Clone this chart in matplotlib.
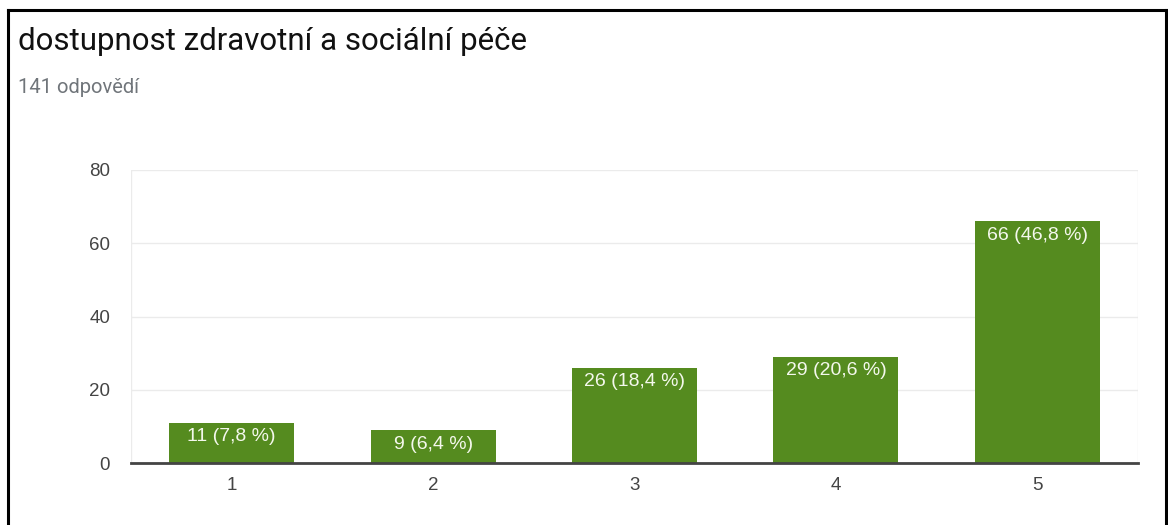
import matplotlib
matplotlib.use("Agg")
import matplotlib.pyplot as plt

categories = ["1", "2", "3", "4", "5"]
counts = [11, 9, 26, 29, 66]
percents = ["7,8", "6,4", "18,4", "20,6", "46,8"]
yticks = [0, 20, 40, 60, 80]
title = "dostupnost zdravotní a sociální péče"
subtitle = "141 odpovědí"

W, H = 1168, 525
fig = plt.figure(figsize=(W / 100, H / 100), dpi=100)
fig.patch.set_facecolor("white")

# outer black border (open at bottom)
fig.add_artist(plt.Line2D([8 / W, 8 / W], [0, 1 - 10 / H], transform=fig.transFigure, color="black", lw=2.2))
fig.add_artist(plt.Line2D([8 / W, 1166 / W], [1 - 10 / H, 1 - 10 / H], transform=fig.transFigure, color="black", lw=2.2))
fig.add_artist(plt.Line2D([1166 / W, 1166 / W], [0, 1 - 10 / H], transform=fig.transFigure, color="black", lw=2.2))

fig.text(18 / W, 1 - 42 / H, title, fontsize=22.5, family="Roboto", color="#111111", va="center", ha="left")
fig.text(18 / W, 1 - 88 / H, subtitle, fontsize=14.5, family="Roboto", color="#70757a", va="center", ha="left")

left, right, top, bottom = 131, 1138, 170, 463
ax = fig.add_axes([left / W, 1 - bottom / H, (right - left) / W, (bottom - top) / H])
x = list(range(len(categories)))
ax.bar(x, counts, width=0.62, color="#558b1f", zorder=3)
ax.set_xlim(-0.5, len(categories) - 0.5)
ax.set_ylim(0, 80)
ax.set_yticks(yticks)
ax.set_xticks(x)
ax.set_xticklabels(categories)
for s in ["top", "right", "left"]:
    ax.spines[s].set_visible(False)
ax.spines["bottom"].set_color("#444444")
ax.spines["bottom"].set_linewidth(2)
ax.spines["bottom"].set_zorder(4)
ax.tick_params(length=0, labelsize=13.5, labelcolor="#444444", pad=10)
ax.tick_params(axis="y", pad=15)
for lab in ax.get_xticklabels() + ax.get_yticklabels():
    lab.set_family("Liberation Sans")
ax.grid(axis="y", color="#ebebeb", lw=1, zorder=0)
ax.axvline(-0.5, color="#ebebeb", lw=1, zorder=0)
ax.axvline(len(categories) - 0.5, color="#ebebeb", lw=1, zorder=0)

for xi, c, p in zip(x, counts, percents):
    ax.annotate(f"{c} ({p} %)", (xi, c), xytext=(0, -4), textcoords="offset points",
                ha="center", va="top", color="#f4f8ec", fontsize=14, family="Liberation Sans", zorder=5)

fig.savefig("out.png", dpi=100, facecolor="white")
